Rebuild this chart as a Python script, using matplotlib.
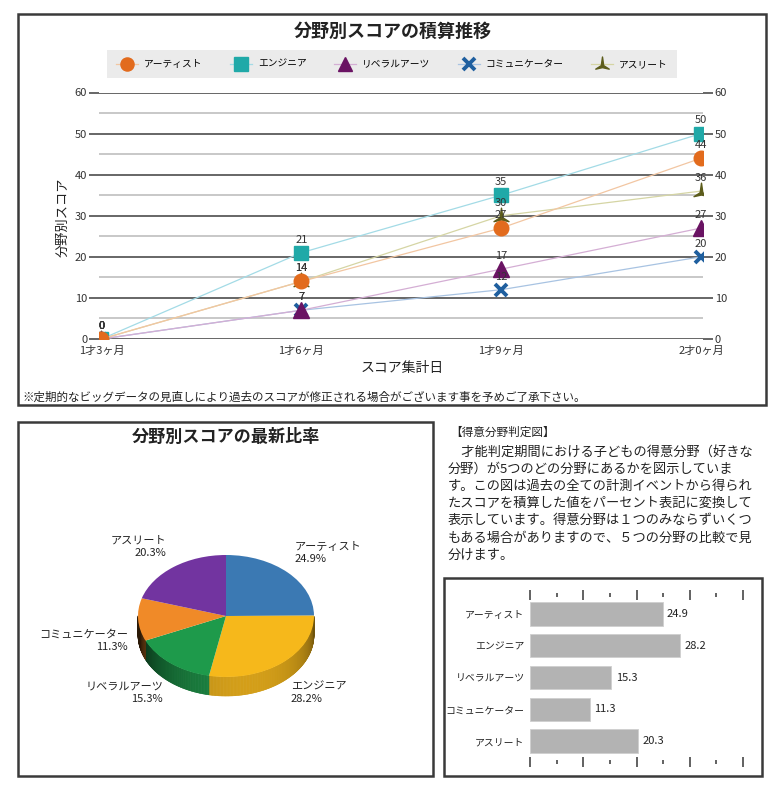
import numpy as np
import matplotlib
matplotlib.use('Agg')
import matplotlib.pyplot as plt
from matplotlib.patches import Rectangle
from matplotlib.path import Path
from matplotlib.collections import PolyCollection
import matplotlib.colors as mcolors

plt.rcParams['font.family'] = ['Noto Sans CJK JP', 'DejaVu Sans']

# ---------------- data ----------------
dates = ['1才3ヶ月', '1才6ヶ月', '1才9ヶ月', '2才0ヶ月']
categories = ['アーティスト', 'エンジニア', 'リベラルアーツ', 'コミュニケーター', 'アスリート']
artist = [0, 14, 27, 44]
engineer = [0, 21, 35, 50]
liberal_arts = [0, 7, 17, 27]
communicator = [0, 7, 12, 20]
athlete = [0, 14, 30, 36]
share_pct = [24.9, 28.2, 15.3, 11.3, 20.3]

line_title = '分野別スコアの積算推移'
pie_title = '分野別スコアの最新比率'
x_title = 'スコア集計日'
y_title = '分野別スコア'
note = '※定期的なビッグデータの見直しにより過去のスコアが修正される場合がございます事を予めご了承下さい。'
info_header = '【得意分野判定図】'
info_lines = [
    '\u3000才能判定期間における子どもの得意分野（好きな',
    '分野）が5つのどの分野にあるかを図示していま',
    'す。この図は過去の全ての計測イベントから得られ',
    'たスコアを積算した値をパーセント表記に変換して',
    '表示しています。得意分野は１つのみならずいくつ',
    'もある場合がありますので、５つの分野の比較で見',
    '分けます。',
]

# ---------------- layout helpers ----------------
W, H = 780, 788
fig = plt.figure(figsize=(W / 100, H / 100), dpi=100)


def rect(l, t, r, b):
    return [l / W, 1 - b / H, (r - l) / W, (b - t) / H]


def fx(x):
    return x / W


def fy(y):
    return 1 - y / H


def box(l, t, r, b):
    fig.patches.append(Rectangle((fx(l), fy(b)), (r - l) / W, (b - t) / H,
                                 transform=fig.transFigure, fill=False,
                                 ec='#3a3a3a', lw=1.8, zorder=10))


# ---------------- top: line chart ----------------
box(18, 14, 766, 405)
fig.text(fx(393), fy(31), line_title, ha='center', va='center', fontsize=13, fontweight='bold', color='#222')

ax = fig.add_axes(rect(99, 92.5, 703, 339))
x = np.arange(len(dates))

concave = Path([(0, 1), (0.16, -0.15), (0.9, -0.62), (0, -0.42), (-0.9, -0.62), (-0.16, -0.15), (0, 1)],
               [Path.MOVETO] + [Path.LINETO] * 5 + [Path.CLOSEPOLY])

series = [
    (artist, 'o', '#e26b1d', '#f2c6a2', 10.5, 1.0, 8),
    (engineer, 's', '#20a9a8', '#a3dbe6', 10.5, 1.0, 7),
    (liberal_arts, '^', '#6a1363', '#d4aed4', 11, 1.0, 6),
    (communicator, 'x', '#1f5f9f', '#a8c3e2', 9, 2.8, 5),
    (athlete, concave, '#5c5c1b', '#d5d5a4', 12, 1.0, 4),
]
handles = []
for vals, mk, mc, lc, ms, mew, z in series:
    h, = ax.plot(x, vals, color=lc, lw=0.9, marker=mk, ms=ms, mfc=mc, mec=mc, mew=mew, zorder=z)
    handles.append(h)
    for xi, v in zip(x, vals):
        ax.annotate(str(v), (xi, v), xytext=(0, 9.5), textcoords='offset points',
                    ha='center', va='center', fontsize=8, color='#333', annotation_clip=False, zorder=9)

ax.set_xlim(-0.012, 3.01)
ax.set_ylim(0, 60)
ax.set_yticks(range(0, 61, 10))
ax.set_yticks(range(5, 60, 10), minor=True)
ax.grid(which='major', axis='y', color='#5a5a5a', lw=1.3, zorder=1)
ax.grid(which='minor', axis='y', color='#c4c4c4', lw=1.3, zorder=1)
ax.set_xticks(x, dates)
for s in ax.spines.values():
    s.set_visible(False)
ax.tick_params(axis='x', length=0, labelsize=8, pad=5, colors='#333')
ax.tick_params(axis='y', which='major', length=7, width=1.3, color='#5a5a5a', labelsize=8,
               right=True, labelright=True, pad=1.5, labelcolor='#333')
ax.tick_params(axis='y', which='minor', length=0)

fig.text(fx(63), fy(217), y_title, rotation=90, ha='center', va='center', fontsize=9.5, color='#222')
fig.text(fx(402), fy(368), x_title, ha='center', va='center', fontsize=10, color='#222')
fig.text(fx(22), fy(397), note, ha='left', va='center', fontsize=8.3, color='#222')

leg = fig.legend(handles, categories, loc='center', bbox_to_anchor=(fx(392), fy(64)), ncol=5,
                 frameon=True, facecolor='#e6e6e6', edgecolor='#e6e6e6', fancybox=False,
                 fontsize=7, handlelength=2.3, columnspacing=2.8, handletextpad=0.6,
                 borderpad=0.9, markerscale=0.9)
leg.get_frame().set_linewidth(0)

# ---------------- bottom left: 3D-like pie ----------------
box(18, 422, 433, 776)
fig.text(fx(226), fy(437), pie_title, ha='center', va='center', fontsize=12.3, fontweight='bold', color='#222')

pie_colors = ['#3b79b3', '#f6b81b', '#1e9a4b', '#f08a28', '#7234a0']
pax = fig.add_axes(rect(20, 450, 431, 770))
cx, cy, rx, ry = 226, 616, 88, 61
wedges, _ = pax.pie(share_pct, colors=pie_colors, startangle=90, counterclock=False,
                    wedgeprops=dict(linewidth=0))
for w in wedges:
    w.set_zorder(3)
pax.set_aspect('auto')
pax.set_xlim((20 - cx) / rx, (431 - cx) / rx)
pax.set_ylim(-(770 - cy) / ry, (cy - 450) / ry)
pax.axis('off')

depth = 19 / ry
polys, cols = [], []
for w, c in zip(wedges, pie_colors):
    base = np.array(mcolors.to_rgb(c))
    angs = np.linspace(w.theta1, w.theta2, max(3, int((w.theta2 - w.theta1) * 2)))
    for a0, a1 in zip(angs[:-1], angs[1:]):
        m = np.deg2rad((a0 + a1) / 2)
        if np.sin(m) >= 0:
            continue
        t0, t1 = np.deg2rad(a0), np.deg2rad(a1)
        polys.append([(np.cos(t0), np.sin(t0)), (np.cos(t1), np.sin(t1)),
                      (np.cos(t1), np.sin(t1) - depth), (np.cos(t0), np.sin(t0) - depth)])
        ang = np.rad2deg(m) % 360
        f = 0.18 + 0.68 * max(0.0, np.cos(np.deg2rad(ang - 285))) ** 0.7
        cols.append(tuple(np.clip(base * f, 0, 1)))
pc = PolyCollection(polys, facecolors=cols, edgecolors=cols, linewidths=0.4, zorder=2)
pax.add_collection(pc)

pie_label_pos = [(295, 553, 'left'), (291, 693, 'left'), (163, 693, 'right'),
                 (128, 641, 'right'), (166, 547, 'right')]
for (px_, py_, ha), name, p in zip(pie_label_pos, categories, share_pct):
    pax.text((px_ - cx) / rx, (cy - py_) / ry, f'{name}\n{p:.1f}%', ha=ha, va='center',
             multialignment=ha, fontsize=8, linespacing=1.35, color='#222', zorder=5)

# ---------------- bottom right: text ----------------
fig.text(fx(450), fy(432), info_header, ha='left', va='center', fontsize=8.4, color='#222')
for i, ln in enumerate(info_lines):
    fig.text(fx(448), fy(452 + i * 17.2), ln, ha='left', va='center', fontsize=9.5, color='#222')

# ---------------- bottom right: bar chart ----------------
box(444, 578, 762, 776)
bax = fig.add_axes(rect(530, 595, 743, 762))
ypos = np.arange(len(categories))
bars = bax.barh(ypos, share_pct, height=0.73, color='#b3b3b3', edgecolor='#cfcfcf', lw=0.6)
bax.bar_label(bars, labels=[f'{v:.1f}' for v in share_pct], padding=3, fontsize=8, color='#222')
bax.set_xlim(0, 40)
bax.set_ylim(4.66, -0.6)
bax.set_xticks(range(0, 41, 10))
bax.set_xticks(range(5, 40, 10), minor=True)
bax.set_yticks(ypos, categories)
for s in bax.spines.values():
    s.set_visible(False)
bax.tick_params(axis='x', which='major', top=True, bottom=True, labelbottom=False,
                direction='inout', length=7, width=1.3, color='#555')
bax.tick_params(axis='x', which='minor', top=True, bottom=True, direction='inout',
                length=3, width=1.3, color='#555')
bax.tick_params(axis='y', length=0, labelsize=7.1, pad=4, labelcolor='#222')

fig.savefig('out.png', dpi=100)
